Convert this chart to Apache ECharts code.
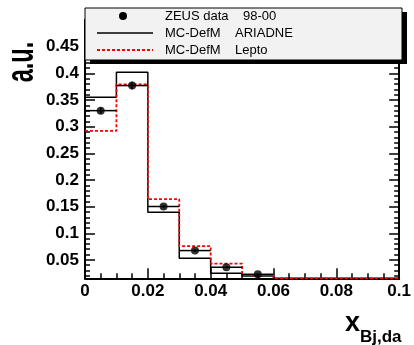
<!DOCTYPE html>
<html>
<head>
<meta charset="utf-8">
<script src="https://cdn.jsdelivr.net/npm/echarts@6/dist/echarts.min.js"></script>
<style>html,body{margin:0;padding:0;background:#fff}#c{width:414px;height:345px}</style>
</head>
<body>
<div id="c"></div>
<script>
// ---- data ----
var binEdges = [0, 0.01, 0.02, 0.03, 0.04, 0.05, 0.06, 0.07, 0.08, 0.09, 0.1];
var zeusData = [0.330, 0.377, 0.150, 0.0675, 0.036, 0.023, 0, 0, 0, 0];
var zeusErr  = [0.006, 0.007, 0.003, 0.002, 0.0015, 0.001, 0, 0, 0, 0];
var ariadne  = [0.355, 0.402, 0.1395, 0.053, 0.025, 0.020, 0, 0, 0, 0];
var lepto    = [0.292, 0.379, 0.164, 0.076, 0.043, 0.022, 0, 0, 0, 0];
var yTickLabels = ['0.05', '0.1', '0.15', '0.2', '0.25', '0.3', '0.35', '0.4', '0.45'];
var xTickLabels = ['0', '0.02', '0.04', '0.06', '0.08', '0.1'];
var legendLabels = ['ZEUS data    98-00', 'MC-DefM    ARIADNE', 'MC-DefM    Lepto'];
var yAxisTitle = 'a.u.';
var xAxisTitleMain = 'x';
var xAxisTitleSub = 'Bj,da';

var Y_MIN = 0.0155, Y_MAX = 0.5;
var FONT = '"Liberation Sans", Arial, Helvetica, sans-serif';

function clampY(v) { return Math.max(v, Y_MIN); }
function stepPoints(vals) {
  var pts = [];
  for (var i = 0; i < vals.length; i++) {
    pts.push([binEdges[i], clampY(vals[i])]);
    pts.push([binEdges[i + 1], clampY(vals[i])]);
  }
  pts.push([binEdges[binEdges.length - 1], Y_MIN]);
  return pts;
}
var majorY = yTickLabels.map(function (s) { return parseFloat(s); });
var minorY = [];
for (var k = 2; k < 50; k++) { if (k % 5 !== 0) minorY.push(k / 100); }

var dataPts = [];
for (var i = 0; i < zeusData.length; i++) {
  if (zeusData[i] > Y_MIN) {
    dataPts.push([(binEdges[i] + binEdges[i + 1]) / 2, zeusData[i], zeusErr[i], binEdges[i], binEdges[i + 1]]);
  }
}

function yAxisDef(pos, ticks, len, labels) {
  return {
    type: 'value', min: Y_MIN, max: Y_MAX, position: pos,
    axisLine: { show: true, lineStyle: { color: '#000', width: 2 } },
    axisTick: { show: true, inside: true, length: len, customValues: ticks, lineStyle: { color: '#000', width: 1.5 } },
    axisLabel: labels ? {
      show: true, customValues: ticks, margin: 6, color: '#000', fontFamily: FONT,
      fontWeight: 'bold', fontSize: 17,
      formatter: function (v) { return yTickLabels[majorY.findIndex(function (m) { return Math.abs(m - v) < 1e-6; })] || ''; }
    } : { show: false },
    splitLine: { show: false }
  };
}

var chart = echarts.init(document.getElementById('c'), null, { renderer: 'canvas' });
chart.setOption({
  animation: false,
  backgroundColor: '#fff',
  grid: { left: 85, right: 12, top: 20, bottom: 66.7 },
  xAxis: {
    type: 'value', min: 0, max: 0.1, interval: 0.02,
    axisLine: { show: true, onZero: false, lineStyle: { color: '#000', width: 2 } },
    axisTick: { show: true, inside: true, length: 10, lineStyle: { color: '#000', width: 1.5 } },
    minorTick: { show: true, splitNumber: 4, length: 5, lineStyle: { color: '#000', width: 1.5 } },
    axisLabel: {
      margin: 5, color: '#000', fontFamily: FONT, fontWeight: 'bold', fontSize: 17,
      formatter: function (v) { return xTickLabels[Math.round(v / 0.02)]; }
    },
    splitLine: { show: false }
  },
  yAxis: [
    yAxisDef('left', majorY, 10, true),
    yAxisDef('left', minorY, 5, false),
    yAxisDef('right', majorY, 10, false),
    yAxisDef('right', minorY, 5, false)
  ],
  series: [
    {
      type: 'line', data: stepPoints(ariadne), symbol: 'none', clip: true,
      lineStyle: { color: '#000', width: 1.5 }, z: 3
    },
    {
      type: 'line', data: stepPoints(lepto), symbol: 'none', clip: true,
      lineStyle: { color: '#ff0000', width: 1.8, type: [3, 2] }, z: 4
    },
    {
      type: 'custom', data: dataPts, z: 5,
      renderItem: function (params, api) {
        var y = api.value(1), e = api.value(2);
        var l = api.coord([api.value(3), y]);
        var r = api.coord([api.value(4), y]);
        var top = api.coord([api.value(0), y + e]);
        var bot = api.coord([api.value(0), y - e]);
        return {
          type: 'group',
          children: [
            { type: 'line', shape: { x1: l[0], y1: l[1], x2: r[0], y2: r[1] }, style: { stroke: '#000', lineWidth: 1.5 } },
            { type: 'line', shape: { x1: top[0], y1: top[1], x2: bot[0], y2: bot[1] }, style: { stroke: '#000', lineWidth: 1.5 } }
          ]
        };
      }
    },
    {
      type: 'scatter', data: dataPts.map(function (p) { return [p[0], p[1]]; }),
      symbol: 'circle', symbolSize: 8, itemStyle: { color: '#000' }, z: 6
    }
  ],
  graphic: [
    { type: 'rect', shape: { x: 90, y: 12, width: 317, height: 52 }, style: { fill: '#000' }, z: 100 },
    { type: 'rect', shape: { x: 85, y: 8, width: 317, height: 52 }, style: { fill: '#f2f2f2', stroke: '#000', lineWidth: 1 }, z: 101 },
    { type: 'circle', shape: { cx: 123, cy: 16, r: 4 }, style: { fill: '#000' }, z: 102 },
    { type: 'line', shape: { x1: 97, y1: 33, x2: 153, y2: 33 }, style: { stroke: '#000', lineWidth: 1.5 }, z: 102 },
    { type: 'line', shape: { x1: 97, y1: 50, x2: 153, y2: 50 }, style: { stroke: '#ff0000', lineWidth: 1.8, lineDash: [3, 2] }, z: 102 },
    { type: 'text', x: 165, y: 16, style: { text: legendLabels[0], font: '13px ' + FONT, fill: '#000', verticalAlign: 'middle' }, z: 102 },
    { type: 'text', x: 165, y: 33, style: { text: legendLabels[1], font: '13px ' + FONT, fill: '#000', verticalAlign: 'middle' }, z: 102 },
    { type: 'text', x: 165, y: 50, style: { text: legendLabels[2], font: '13px ' + FONT, fill: '#000', verticalAlign: 'middle' }, z: 102 },
    { type: 'text', x: 23, y: 62, rotation: Math.PI / 2, scaleX: 0.62,
      style: { text: yAxisTitle, font: 'bold 38px ' + FONT, fill: '#000', align: 'center', verticalAlign: 'middle' }, z: 102 },
    { type: 'text', x: 360, y: 337,
      style: { text: xAxisTitleMain, font: 'bold 27px ' + FONT, fill: '#000', align: 'right', verticalAlign: 'bottom' }, z: 102 },
    { type: 'text', x: 360, y: 346,
      style: { text: xAxisTitleSub, font: 'bold 17px ' + FONT, fill: '#000', align: 'left', verticalAlign: 'bottom' }, z: 102 }
  ]
});
</script>
</body>
</html>
